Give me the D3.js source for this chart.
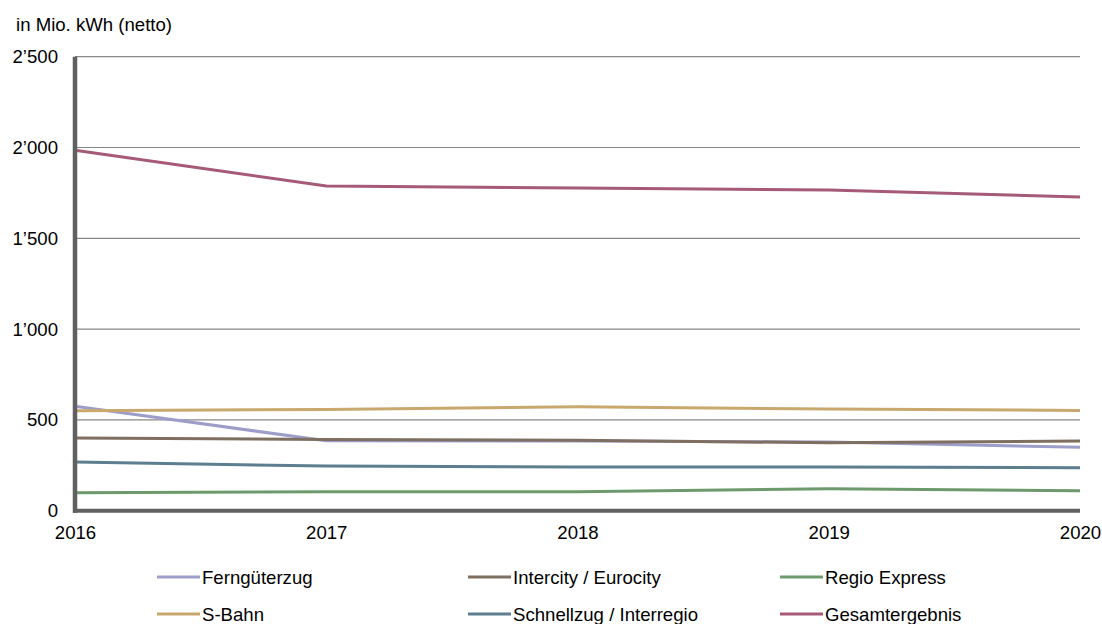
<!DOCTYPE html>
<html>
<head>
<meta charset="utf-8">
<script src="https://cdn.jsdelivr.net/npm/d3@7"></script>
<style>
  html, body { margin: 0; padding: 0; background: #fff; }
  svg { display: block; font-family: "Liberation Sans", Arial, Helvetica, sans-serif; }
</style>
</head>
<body>
<svg id="chart" width="1102" height="624"></svg>
<script>
// Years on the x axis
const years = [2016, 2017, 2018, 2019, 2020];

// Net energy consumption per train category, in million kWh
const fernguterzug = [575, 385, 384, 378, 349];
const intercity    = [400, 392, 388, 374, 384];
const regioExpress = [99, 104, 104, 121, 110];
const sBahn        = [551, 557, 572, 560, 552];
const schnellzug   = [268, 246, 240, 241, 237];
const gesamt       = [1985, 1788, 1777, 1766, 1727];

const seriesNames  = ["Ferngüterzug", "Intercity / Eurocity", "Regio Express", "S-Bahn", "Schnellzug / Interregio", "Gesamtergebnis"];
const seriesValues = [fernguterzug, intercity, regioExpress, sBahn, schnellzug, gesamt];
const seriesColors = ["#9d9dc9", "#7f6f60", "#6c9a6c", "#c9a86e", "#5c7e8f", "#a65a78"];

const yTicks = [0, 500, 1000, 1500, 2000, 2500];
const yLabel = "in Mio. kWh (netto)";
const fontSize = 18.6;

// Thousands separator with a typographic apostrophe (Swiss style)
const fmt = v => d3.format(",")(v).replace(/,/g, "\u2019");

const svg = d3.select("#chart");
const plot = { left: 75, right: 1080, top: 56.7, bottom: 510.7 };

const x = d3.scaleLinear().domain([2016, 2020]).range([plot.left, plot.right]);
const y = d3.scaleLinear().domain([0, 2500]).range([plot.bottom, plot.top]);

// Horizontal gridlines
svg.append("g")
  .selectAll("line")
  .data(yTicks.filter(d => d > 0))
  .join("line")
  .attr("x1", plot.left).attr("x2", plot.right)
  .attr("y1", d => y(d)).attr("y2", d => y(d))
  .attr("stroke", "#878787").attr("stroke-width", 1.2);

// Y axis labels
const yAxis = svg.append("g")
  .attr("transform", `translate(${plot.left},0)`)
  .call(d3.axisLeft(y).tickValues(yTicks).tickFormat(fmt).tickSize(0).tickPadding(17));
yAxis.select(".domain").remove();
yAxis.selectAll("text")
  .attr("font-size", fontSize).attr("fill", "#000")
  .attr("font-family", "'Liberation Sans', Arial, sans-serif");

// X axis labels
const xAxis = svg.append("g")
  .attr("transform", `translate(0,${plot.bottom})`)
  .call(d3.axisBottom(x).tickValues(years).tickFormat(d3.format("d")).tickSize(0).tickPadding(15));
xAxis.select(".domain").remove();
xAxis.selectAll("text")
  .attr("font-size", fontSize).attr("fill", "#000")
  .attr("font-family", "'Liberation Sans', Arial, sans-serif");

// Axis title
svg.append("text")
  .attr("x", 16).attr("y", 31)
  .attr("font-size", fontSize).attr("fill", "#000")
  .text(yLabel);

// Data lines
const line = d3.line()
  .x((d, i) => x(years[i]))
  .y(d => y(d));

svg.append("g")
  .selectAll("path")
  .data(seriesValues)
  .join("path")
  .attr("d", d => line(d))
  .attr("fill", "none")
  .attr("stroke", (d, i) => seriesColors[i])
  .attr("stroke-width", 3)
  .attr("stroke-linejoin", "round");

// Heavy axis lines
svg.append("line")
  .attr("x1", plot.left).attr("x2", plot.left)
  .attr("y1", plot.top).attr("y2", plot.bottom + 2)
  .attr("stroke", "#606060").attr("stroke-width", 4.5);
svg.append("line")
  .attr("x1", plot.left - 2).attr("x2", plot.right)
  .attr("y1", plot.bottom).attr("y2", plot.bottom)
  .attr("stroke", "#606060").attr("stroke-width", 4);

// Legend: three columns, two rows
const legendCols = [157, 468, 780];
const legendRows = [577, 614];
const legend = svg.append("g")
  .selectAll("g")
  .data(seriesNames)
  .join("g")
  .attr("transform", (d, i) => `translate(${legendCols[i % 3]},${legendRows[Math.floor(i / 3)]})`);
legend.append("line")
  .attr("x1", 0).attr("x2", 43)
  .attr("stroke", (d, i) => seriesColors[i])
  .attr("stroke-width", 3);
legend.append("text")
  .attr("x", 45).attr("dy", "0.35em")
  .attr("font-size", fontSize).attr("fill", "#000")
  .text(d => d);
</script>
</body>
</html>
